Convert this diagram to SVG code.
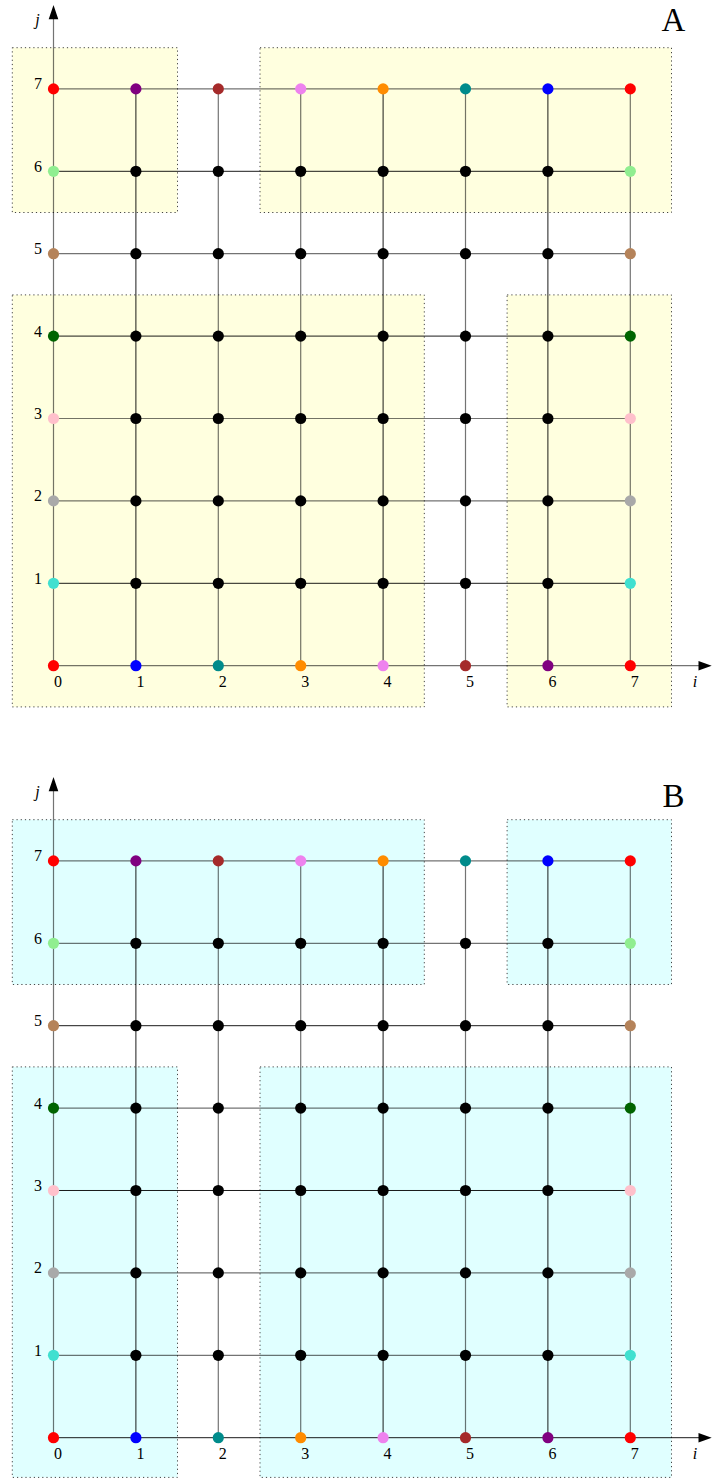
<svg xmlns="http://www.w3.org/2000/svg" width="712" height="1479" viewBox="0 0 712 1479">
<defs>
<style>
.bg{fill:#fff}
.ya{fill:#ffffdf;stroke:#444;stroke-width:1;stroke-dasharray:1.2 3}
.cb{fill:#e0ffff;stroke:#444;stroke-width:1;stroke-dasharray:1.2 3}
.k{stroke:#000;stroke-width:0.9;fill:none}
.g{stroke:#000;stroke-opacity:0.55;stroke-width:1.2;fill:none}
.ah{fill:#000}
.lbl{font-family:"Liberation Serif","DejaVu Serif",serif;font-size:16px;fill:#000}
.lx{text-anchor:middle}
.ly{text-anchor:end}
.it{font-style:italic;text-anchor:middle}
.big{font-family:"Liberation Serif","DejaVu Serif",serif;font-size:33px;fill:#000;text-anchor:middle}
circle{stroke:none}
.n{fill:#000}
.red{fill:#ff0000}.pur{fill:#800080}.brn{fill:#a52a2a}.vio{fill:#ee82ee}.org{fill:#ff8c00}.tea{fill:#008b8b}.blu{fill:#0000ff}
.lgr{fill:#90ee90}.tan{fill:#b5835a}.dgr{fill:#006400}.pnk{fill:#ffc0cb}.gry{fill:#a9a9a9}.tur{fill:#40e0d0}
</style>
</defs>
<rect class="bg" x="0" y="0" width="712" height="1479"/>

<!-- ============ PANEL A ============ -->
<g id="panelA" transform="translate(53.5,665.7)">
<g id="A-boxes">
<rect class="ya" x="-41.2" y="-618" width="165.2" height="164.8"/>
<rect class="ya" x="206.5" y="-618" width="411.5" height="164.8"/>
<rect class="ya" x="-41.2" y="-370.8" width="412" height="412"/>
<rect class="ya" x="453.6" y="-370.8" width="164.4" height="412"/>
</g>
<g id="A-connectors">
<line class="g" x1="0" y1="0" x2="648" y2="0"/>
<line class="k" x1="0" y1="-82.4" x2="576.8" y2="-82.4"/>
<line class="g" x1="0" y1="-164.8" x2="576.8" y2="-164.8"/>
<line class="g" x1="0" y1="-247.2" x2="576.8" y2="-247.2"/>
<line class="k" x1="0" y1="-329.6" x2="576.8" y2="-329.6"/>
<line class="g" x1="0" y1="-412" x2="576.8" y2="-412"/>
<line class="k" x1="0" y1="-494.4" x2="576.8" y2="-494.4"/>
<line class="g" x1="0" y1="-576.8" x2="576.8" y2="-576.8"/>
<line class="g" x1="0" y1="0" x2="0" y2="-650"/>
<line class="k" x1="82.4" y1="0" x2="82.4" y2="-576.8"/>
<line class="g" x1="164.8" y1="0" x2="164.8" y2="-576.8"/>
<line class="g" x1="247.2" y1="0" x2="247.2" y2="-576.8"/>
<line class="k" x1="329.6" y1="0" x2="329.6" y2="-576.8"/>
<line class="g" x1="412" y1="0" x2="412" y2="-576.8"/>
<line class="k" x1="494.4" y1="0" x2="494.4" y2="-576.8"/>
<line class="g" x1="576.8" y1="0" x2="576.8" y2="-576.8"/>
<polygon class="ah" points="658.2,0 645,-4.8 645,4.8"/>
<polygon class="ah" points="0,-660.7 -4.8,-646.5 4.8,-646.5"/>
</g>
<g id="A-nodes">
<g id="A-0-0"><circle class="red" cx="0" cy="0" r="5.6"/></g>
<g id="A-1-0"><circle class="blu" cx="82.4" cy="0" r="5.6"/></g>
<g id="A-2-0"><circle class="tea" cx="164.8" cy="0" r="5.6"/></g>
<g id="A-3-0"><circle class="org" cx="247.2" cy="0" r="5.6"/></g>
<g id="A-4-0"><circle class="vio" cx="329.6" cy="0" r="5.6"/></g>
<g id="A-5-0"><circle class="brn" cx="412" cy="0" r="5.6"/></g>
<g id="A-6-0"><circle class="pur" cx="494.4" cy="0" r="5.6"/></g>
<g id="A-7-0"><circle class="red" cx="576.8" cy="0" r="5.6"/></g>
<g id="A-0-7"><circle class="red" cx="0" cy="-576.8" r="5.6"/></g>
<g id="A-1-7"><circle class="pur" cx="82.4" cy="-576.8" r="5.6"/></g>
<g id="A-2-7"><circle class="brn" cx="164.8" cy="-576.8" r="5.6"/></g>
<g id="A-3-7"><circle class="vio" cx="247.2" cy="-576.8" r="5.6"/></g>
<g id="A-4-7"><circle class="org" cx="329.6" cy="-576.8" r="5.6"/></g>
<g id="A-5-7"><circle class="tea" cx="412" cy="-576.8" r="5.6"/></g>
<g id="A-6-7"><circle class="blu" cx="494.4" cy="-576.8" r="5.6"/></g>
<g id="A-7-7"><circle class="red" cx="576.8" cy="-576.8" r="5.6"/></g>
<g id="A-0-1"><circle class="tur" cx="0" cy="-82.4" r="5.6"/></g>
<g id="A-0-2"><circle class="gry" cx="0" cy="-164.8" r="5.6"/></g>
<g id="A-0-3"><circle class="pnk" cx="0" cy="-247.2" r="5.6"/></g>
<g id="A-0-4"><circle class="dgr" cx="0" cy="-329.6" r="5.6"/></g>
<g id="A-0-5"><circle class="tan" cx="0" cy="-412" r="5.6"/></g>
<g id="A-0-6"><circle class="lgr" cx="0" cy="-494.4" r="5.6"/></g>
<g id="A-7-1"><circle class="tur" cx="576.8" cy="-82.4" r="5.6"/></g>
<g id="A-7-2"><circle class="gry" cx="576.8" cy="-164.8" r="5.6"/></g>
<g id="A-7-3"><circle class="pnk" cx="576.8" cy="-247.2" r="5.6"/></g>
<g id="A-7-4"><circle class="dgr" cx="576.8" cy="-329.6" r="5.6"/></g>
<g id="A-7-5"><circle class="tan" cx="576.8" cy="-412" r="5.6"/></g>
<g id="A-7-6"><circle class="lgr" cx="576.8" cy="-494.4" r="5.6"/></g>
<g id="A-1-1"><circle class="n" cx="82.4" cy="-82.4" r="5.6"/></g>
<g id="A-2-1"><circle class="n" cx="164.8" cy="-82.4" r="5.6"/></g>
<g id="A-3-1"><circle class="n" cx="247.2" cy="-82.4" r="5.6"/></g>
<g id="A-4-1"><circle class="n" cx="329.6" cy="-82.4" r="5.6"/></g>
<g id="A-5-1"><circle class="n" cx="412" cy="-82.4" r="5.6"/></g>
<g id="A-6-1"><circle class="n" cx="494.4" cy="-82.4" r="5.6"/></g>
<g id="A-1-2"><circle class="n" cx="82.4" cy="-164.8" r="5.6"/></g>
<g id="A-2-2"><circle class="n" cx="164.8" cy="-164.8" r="5.6"/></g>
<g id="A-3-2"><circle class="n" cx="247.2" cy="-164.8" r="5.6"/></g>
<g id="A-4-2"><circle class="n" cx="329.6" cy="-164.8" r="5.6"/></g>
<g id="A-5-2"><circle class="n" cx="412" cy="-164.8" r="5.6"/></g>
<g id="A-6-2"><circle class="n" cx="494.4" cy="-164.8" r="5.6"/></g>
<g id="A-1-3"><circle class="n" cx="82.4" cy="-247.2" r="5.6"/></g>
<g id="A-2-3"><circle class="n" cx="164.8" cy="-247.2" r="5.6"/></g>
<g id="A-3-3"><circle class="n" cx="247.2" cy="-247.2" r="5.6"/></g>
<g id="A-4-3"><circle class="n" cx="329.6" cy="-247.2" r="5.6"/></g>
<g id="A-5-3"><circle class="n" cx="412" cy="-247.2" r="5.6"/></g>
<g id="A-6-3"><circle class="n" cx="494.4" cy="-247.2" r="5.6"/></g>
<g id="A-1-4"><circle class="n" cx="82.4" cy="-329.6" r="5.6"/></g>
<g id="A-2-4"><circle class="n" cx="164.8" cy="-329.6" r="5.6"/></g>
<g id="A-3-4"><circle class="n" cx="247.2" cy="-329.6" r="5.6"/></g>
<g id="A-4-4"><circle class="n" cx="329.6" cy="-329.6" r="5.6"/></g>
<g id="A-5-4"><circle class="n" cx="412" cy="-329.6" r="5.6"/></g>
<g id="A-6-4"><circle class="n" cx="494.4" cy="-329.6" r="5.6"/></g>
<g id="A-1-5"><circle class="n" cx="82.4" cy="-412" r="5.6"/></g>
<g id="A-2-5"><circle class="n" cx="164.8" cy="-412" r="5.6"/></g>
<g id="A-3-5"><circle class="n" cx="247.2" cy="-412" r="5.6"/></g>
<g id="A-4-5"><circle class="n" cx="329.6" cy="-412" r="5.6"/></g>
<g id="A-5-5"><circle class="n" cx="412" cy="-412" r="5.6"/></g>
<g id="A-6-5"><circle class="n" cx="494.4" cy="-412" r="5.6"/></g>
<g id="A-1-6"><circle class="n" cx="82.4" cy="-494.4" r="5.6"/></g>
<g id="A-2-6"><circle class="n" cx="164.8" cy="-494.4" r="5.6"/></g>
<g id="A-3-6"><circle class="n" cx="247.2" cy="-494.4" r="5.6"/></g>
<g id="A-4-6"><circle class="n" cx="329.6" cy="-494.4" r="5.6"/></g>
<g id="A-5-6"><circle class="n" cx="412" cy="-494.4" r="5.6"/></g>
<g id="A-6-6"><circle class="n" cx="494.4" cy="-494.4" r="5.6"/></g>
</g>
<g id="A-labels" class="lbl">
<text class="lx" x="4.5" y="21.5">0</text>
<text class="lx" x="86.9" y="21.5">1</text>
<text class="lx" x="169.3" y="21.5">2</text>
<text class="lx" x="251.7" y="21.5">3</text>
<text class="lx" x="334.1" y="21.5">4</text>
<text class="lx" x="416.5" y="21.5">5</text>
<text class="lx" x="498.9" y="21.5">6</text>
<text class="lx" x="581.3" y="21.5">7</text>
<text class="ly" x="-11.5" y="-82">1</text>
<text class="ly" x="-11.5" y="-164.4">2</text>
<text class="ly" x="-11.5" y="-246.8">3</text>
<text class="ly" x="-11.5" y="-329.2">4</text>
<text class="ly" x="-11.5" y="-411.6">5</text>
<text class="ly" x="-11.5" y="-494">6</text>
<text class="ly" x="-11.5" y="-576.4">7</text>
<text class="it" x="641.5" y="21">i</text>
<text class="it" x="-16" y="-641">j</text>
</g>
</g>
<text class="big" x="673.5" y="31">A</text>

<!-- ============ PANEL B ============ -->
<g id="panelB" transform="translate(53.5,1437.7)">
<g id="B-boxes">
<rect class="cb" x="-41.2" y="-618" width="412" height="164.8"/>
<rect class="cb" x="453.6" y="-618" width="164.4" height="164.8"/>
<rect class="cb" x="-41.2" y="-370.8" width="165.2" height="410.5"/>
<rect class="cb" x="206.5" y="-370.8" width="411.5" height="410.5"/>
</g>
<g id="B-connectors">
<line class="k" x1="0" y1="0" x2="648" y2="0"/>
<line class="g" x1="0" y1="-82.4" x2="576.8" y2="-82.4"/>
<line class="g" x1="0" y1="-164.8" x2="576.8" y2="-164.8"/>
<line class="k" x1="0" y1="-247.2" x2="576.8" y2="-247.2"/>
<line class="g" x1="0" y1="-329.6" x2="576.8" y2="-329.6"/>
<line class="k" x1="0" y1="-412" x2="576.8" y2="-412"/>
<line class="g" x1="0" y1="-494.4" x2="576.8" y2="-494.4"/>
<line class="g" x1="0" y1="-576.8" x2="576.8" y2="-576.8"/>
<line class="g" x1="0" y1="0" x2="0" y2="-650"/>
<line class="k" x1="82.4" y1="0" x2="82.4" y2="-576.8"/>
<line class="g" x1="164.8" y1="0" x2="164.8" y2="-576.8"/>
<line class="g" x1="247.2" y1="0" x2="247.2" y2="-576.8"/>
<line class="k" x1="329.6" y1="0" x2="329.6" y2="-576.8"/>
<line class="g" x1="412" y1="0" x2="412" y2="-576.8"/>
<line class="k" x1="494.4" y1="0" x2="494.4" y2="-576.8"/>
<line class="g" x1="576.8" y1="0" x2="576.8" y2="-576.8"/>
<polygon class="ah" points="658.2,0 645,-4.8 645,4.8"/>
<polygon class="ah" points="0,-660.7 -4.8,-646.5 4.8,-646.5"/>
</g>
<g id="B-nodes">
<g id="B-0-0"><circle class="red" cx="0" cy="0" r="5.6"/></g>
<g id="B-1-0"><circle class="blu" cx="82.4" cy="0" r="5.6"/></g>
<g id="B-2-0"><circle class="tea" cx="164.8" cy="0" r="5.6"/></g>
<g id="B-3-0"><circle class="org" cx="247.2" cy="0" r="5.6"/></g>
<g id="B-4-0"><circle class="vio" cx="329.6" cy="0" r="5.6"/></g>
<g id="B-5-0"><circle class="brn" cx="412" cy="0" r="5.6"/></g>
<g id="B-6-0"><circle class="pur" cx="494.4" cy="0" r="5.6"/></g>
<g id="B-7-0"><circle class="red" cx="576.8" cy="0" r="5.6"/></g>
<g id="B-0-7"><circle class="red" cx="0" cy="-576.8" r="5.6"/></g>
<g id="B-1-7"><circle class="pur" cx="82.4" cy="-576.8" r="5.6"/></g>
<g id="B-2-7"><circle class="brn" cx="164.8" cy="-576.8" r="5.6"/></g>
<g id="B-3-7"><circle class="vio" cx="247.2" cy="-576.8" r="5.6"/></g>
<g id="B-4-7"><circle class="org" cx="329.6" cy="-576.8" r="5.6"/></g>
<g id="B-5-7"><circle class="tea" cx="412" cy="-576.8" r="5.6"/></g>
<g id="B-6-7"><circle class="blu" cx="494.4" cy="-576.8" r="5.6"/></g>
<g id="B-7-7"><circle class="red" cx="576.8" cy="-576.8" r="5.6"/></g>
<g id="B-0-1"><circle class="tur" cx="0" cy="-82.4" r="5.6"/></g>
<g id="B-0-2"><circle class="gry" cx="0" cy="-164.8" r="5.6"/></g>
<g id="B-0-3"><circle class="pnk" cx="0" cy="-247.2" r="5.6"/></g>
<g id="B-0-4"><circle class="dgr" cx="0" cy="-329.6" r="5.6"/></g>
<g id="B-0-5"><circle class="tan" cx="0" cy="-412" r="5.6"/></g>
<g id="B-0-6"><circle class="lgr" cx="0" cy="-494.4" r="5.6"/></g>
<g id="B-7-1"><circle class="tur" cx="576.8" cy="-82.4" r="5.6"/></g>
<g id="B-7-2"><circle class="gry" cx="576.8" cy="-164.8" r="5.6"/></g>
<g id="B-7-3"><circle class="pnk" cx="576.8" cy="-247.2" r="5.6"/></g>
<g id="B-7-4"><circle class="dgr" cx="576.8" cy="-329.6" r="5.6"/></g>
<g id="B-7-5"><circle class="tan" cx="576.8" cy="-412" r="5.6"/></g>
<g id="B-7-6"><circle class="lgr" cx="576.8" cy="-494.4" r="5.6"/></g>
<g id="B-1-1"><circle class="n" cx="82.4" cy="-82.4" r="5.6"/></g>
<g id="B-2-1"><circle class="n" cx="164.8" cy="-82.4" r="5.6"/></g>
<g id="B-3-1"><circle class="n" cx="247.2" cy="-82.4" r="5.6"/></g>
<g id="B-4-1"><circle class="n" cx="329.6" cy="-82.4" r="5.6"/></g>
<g id="B-5-1"><circle class="n" cx="412" cy="-82.4" r="5.6"/></g>
<g id="B-6-1"><circle class="n" cx="494.4" cy="-82.4" r="5.6"/></g>
<g id="B-1-2"><circle class="n" cx="82.4" cy="-164.8" r="5.6"/></g>
<g id="B-2-2"><circle class="n" cx="164.8" cy="-164.8" r="5.6"/></g>
<g id="B-3-2"><circle class="n" cx="247.2" cy="-164.8" r="5.6"/></g>
<g id="B-4-2"><circle class="n" cx="329.6" cy="-164.8" r="5.6"/></g>
<g id="B-5-2"><circle class="n" cx="412" cy="-164.8" r="5.6"/></g>
<g id="B-6-2"><circle class="n" cx="494.4" cy="-164.8" r="5.6"/></g>
<g id="B-1-3"><circle class="n" cx="82.4" cy="-247.2" r="5.6"/></g>
<g id="B-2-3"><circle class="n" cx="164.8" cy="-247.2" r="5.6"/></g>
<g id="B-3-3"><circle class="n" cx="247.2" cy="-247.2" r="5.6"/></g>
<g id="B-4-3"><circle class="n" cx="329.6" cy="-247.2" r="5.6"/></g>
<g id="B-5-3"><circle class="n" cx="412" cy="-247.2" r="5.6"/></g>
<g id="B-6-3"><circle class="n" cx="494.4" cy="-247.2" r="5.6"/></g>
<g id="B-1-4"><circle class="n" cx="82.4" cy="-329.6" r="5.6"/></g>
<g id="B-2-4"><circle class="n" cx="164.8" cy="-329.6" r="5.6"/></g>
<g id="B-3-4"><circle class="n" cx="247.2" cy="-329.6" r="5.6"/></g>
<g id="B-4-4"><circle class="n" cx="329.6" cy="-329.6" r="5.6"/></g>
<g id="B-5-4"><circle class="n" cx="412" cy="-329.6" r="5.6"/></g>
<g id="B-6-4"><circle class="n" cx="494.4" cy="-329.6" r="5.6"/></g>
<g id="B-1-5"><circle class="n" cx="82.4" cy="-412" r="5.6"/></g>
<g id="B-2-5"><circle class="n" cx="164.8" cy="-412" r="5.6"/></g>
<g id="B-3-5"><circle class="n" cx="247.2" cy="-412" r="5.6"/></g>
<g id="B-4-5"><circle class="n" cx="329.6" cy="-412" r="5.6"/></g>
<g id="B-5-5"><circle class="n" cx="412" cy="-412" r="5.6"/></g>
<g id="B-6-5"><circle class="n" cx="494.4" cy="-412" r="5.6"/></g>
<g id="B-1-6"><circle class="n" cx="82.4" cy="-494.4" r="5.6"/></g>
<g id="B-2-6"><circle class="n" cx="164.8" cy="-494.4" r="5.6"/></g>
<g id="B-3-6"><circle class="n" cx="247.2" cy="-494.4" r="5.6"/></g>
<g id="B-4-6"><circle class="n" cx="329.6" cy="-494.4" r="5.6"/></g>
<g id="B-5-6"><circle class="n" cx="412" cy="-494.4" r="5.6"/></g>
<g id="B-6-6"><circle class="n" cx="494.4" cy="-494.4" r="5.6"/></g>
</g>
<g id="B-labels" class="lbl">
<text class="lx" x="4.5" y="21.5">0</text>
<text class="lx" x="86.9" y="21.5">1</text>
<text class="lx" x="169.3" y="21.5">2</text>
<text class="lx" x="251.7" y="21.5">3</text>
<text class="lx" x="334.1" y="21.5">4</text>
<text class="lx" x="416.5" y="21.5">5</text>
<text class="lx" x="498.9" y="21.5">6</text>
<text class="lx" x="581.3" y="21.5">7</text>
<text class="ly" x="-11.5" y="-82">1</text>
<text class="ly" x="-11.5" y="-164.4">2</text>
<text class="ly" x="-11.5" y="-246.8">3</text>
<text class="ly" x="-11.5" y="-329.2">4</text>
<text class="ly" x="-11.5" y="-411.6">5</text>
<text class="ly" x="-11.5" y="-494">6</text>
<text class="ly" x="-11.5" y="-576.4">7</text>
<text class="it" x="641.5" y="21">i</text>
<text class="it" x="-16" y="-641">j</text>
</g>
</g>
<text class="big" x="673.5" y="807">B</text>
</svg>
